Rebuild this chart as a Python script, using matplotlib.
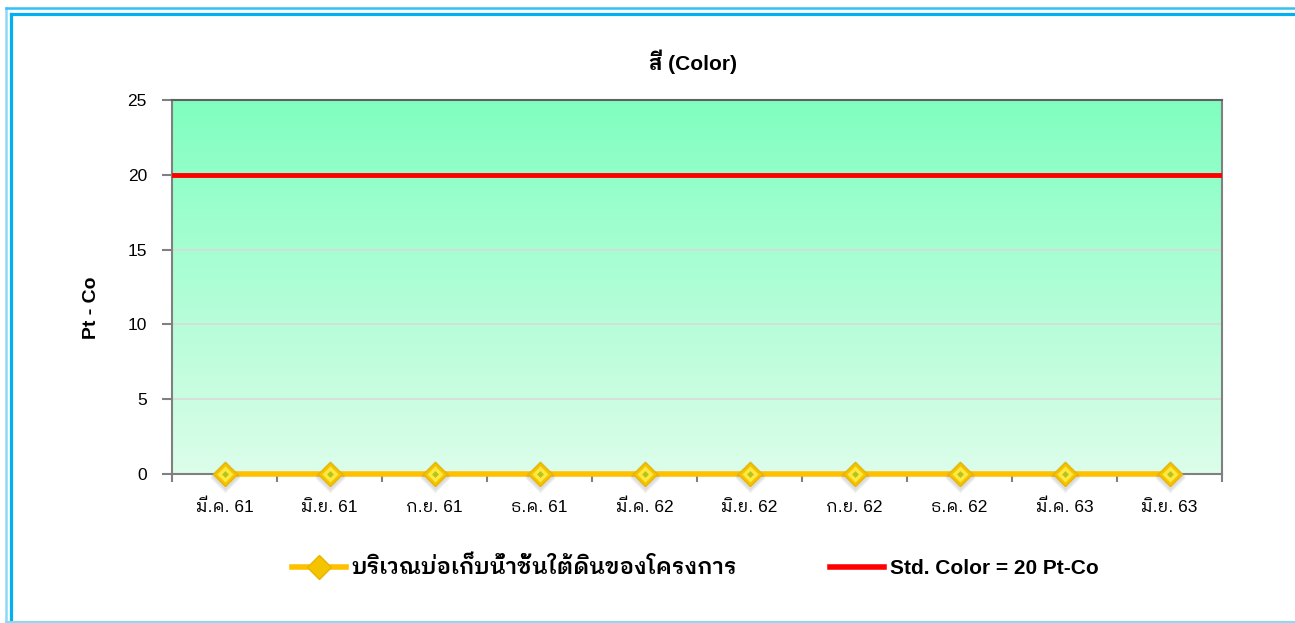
import matplotlib
matplotlib.use("Agg")
import matplotlib.pyplot as plt
import numpy as np
from matplotlib.lines import Line2D

plt.rcParams['font.family'] = ['Liberation Sans', 'IBM Plex Sans Thai Looped', 'DejaVu Sans']

months = ["มี.ค. 61", "มิ.ย. 61", "ก.ย. 61", "ธ.ค. 61", "มี.ค. 62",
          "มิ.ย. 62", "ก.ย. 62", "ธ.ค. 62", "มี.ค. 63", "มิ.ย. 63"]
color_values = [0, 0, 0, 0, 0, 0, 0, 0, 0, 0]
std_color = 20
series_name = "บริเวณบ่อเก็บน้ำชั้นใต้ดินของโครงการ"
std_name = "Std. Color = 20 Pt-Co"
yticks = [0, 5, 10, 15, 20, 25]

W, H = 1295, 623
fig = plt.figure(figsize=(W / 100, H / 100), dpi=100)

def px(x, y):
    return x / W, 1 - y / H

ax = fig.add_axes([172 / W, 1 - 474 / H, 1050 / W, 374 / H])
x = np.arange(len(months))

# mint gradient in the plot area
top = np.array([128, 255, 192]) / 255
bot = np.array([220, 253, 234]) / 255
t = np.linspace(0, 1, 256)[:, None]
grad = (top * (1 - t) + bot * t)[:, None, :]
ax.imshow(grad, extent=(-0.5, 9.5, 0, 25), aspect='auto', zorder=0)

ax.set_xlim(-0.5, len(months) - 0.5)
ax.set_ylim(0, 25)
ax.set_yticks(yticks)
for yv in yticks[1:-1]:
    ax.axhline(yv, color='#d9d9d9', lw=1.2, zorder=1)

ax.axhline(std_color, color='#ff0000', lw=3.5, zorder=3)

# series line + diamond markers with a soft shadow
ax.plot(x, color_values, color='#ffc000', lw=4, zorder=4, solid_capstyle='butt', clip_on=False)
for dy, a in [(-0.3, 0.08), (-0.2, 0.10), (-0.1, 0.12)]:
    ax.plot(x, np.array(color_values) + dy, ls='none', marker='D', ms=15,
            mfc='#808080', mec='none', alpha=a, zorder=4, clip_on=False)
ax.plot(x, color_values, ls='none', marker='D', ms=12.5, mfc='#f5c400', mec='#e8b400',
        mew=1, zorder=5, clip_on=False)
ax.plot(x, color_values, ls='none', marker='D', ms=8.5, mfc='#ffe940', mec='none',
        zorder=6, clip_on=False)
ax.plot(x, color_values, ls='none', marker='D', ms=3.5, mfc='#b8c41e', mec='none',
        zorder=7, clip_on=False)

for s in ['left', 'right', 'bottom']:
    ax.spines[s].set_color('#808080')
    ax.spines[s].set_linewidth(1.5)
ax.spines['top'].set_color('#606060')
ax.spines['top'].set_linewidth(1.5)

ax.set_xticks(x)
ax.set_xticklabels(months, fontsize=12.5, va='baseline')
ax.set_xticks(np.arange(-0.5, len(months)), minor=True)
ax.tick_params(axis='x', which='major', length=0, pad=27)
ax.tick_params(axis='x', which='minor', length=6, width=1.5, color='#808080')
ax.tick_params(axis='y', length=7, width=1.5, color='#808080', labelsize=12.5, pad=11)

fig.text(*px(693, 62), "สี (Color)", ha='center', va='center', fontsize=15, fontweight='bold')
fig.text(*px(91.5, 308), "Pt - Co", ha='center', va='center', rotation=90,
         fontsize=14, fontweight='bold')

h1 = Line2D([], [], color='#ffc000', lw=4, marker='D', ms=12.5, mfc='#f5c400', mec='#e8b400')
h2 = Line2D([], [], color='#ff0000', lw=4)
leg = fig.legend([h1, h2], [series_name, std_name], loc='center', bbox_to_anchor=px(695, 568),
                 ncol=2, frameon=False, handlelength=2.6, handletextpad=0.25,
                 columnspacing=4.5, prop={'size': 15, 'weight': 'bold'})
leg.get_texts()[0].set_fontsize(16)
leg.get_texts()[0].set_fontweight('semibold')

# double blue frame on the left and top, thin line at the bottom
light = '#8fd8f5'
blue = '#00b0f0'
fig.add_artist(Line2D(*zip(px(5.5, 623), px(5.5, 7.5)), color=light, lw=1.8))
fig.add_artist(Line2D(*zip(px(5.5, 7.5), px(1295, 7.5)), color='#33c0f2', lw=1.8))
fig.add_artist(Line2D(*zip(px(11.5, 623), px(11.5, 13.5)), color=blue, lw=2.3))
fig.add_artist(Line2D(*zip(px(11.5, 13.5), px(1295, 13.5)), color=blue, lw=2.3))
fig.add_artist(Line2D(*zip(px(5.5, 621.5), px(1295, 621.5)), color=light, lw=1.5))

fig.savefig("out.png", dpi=100)
